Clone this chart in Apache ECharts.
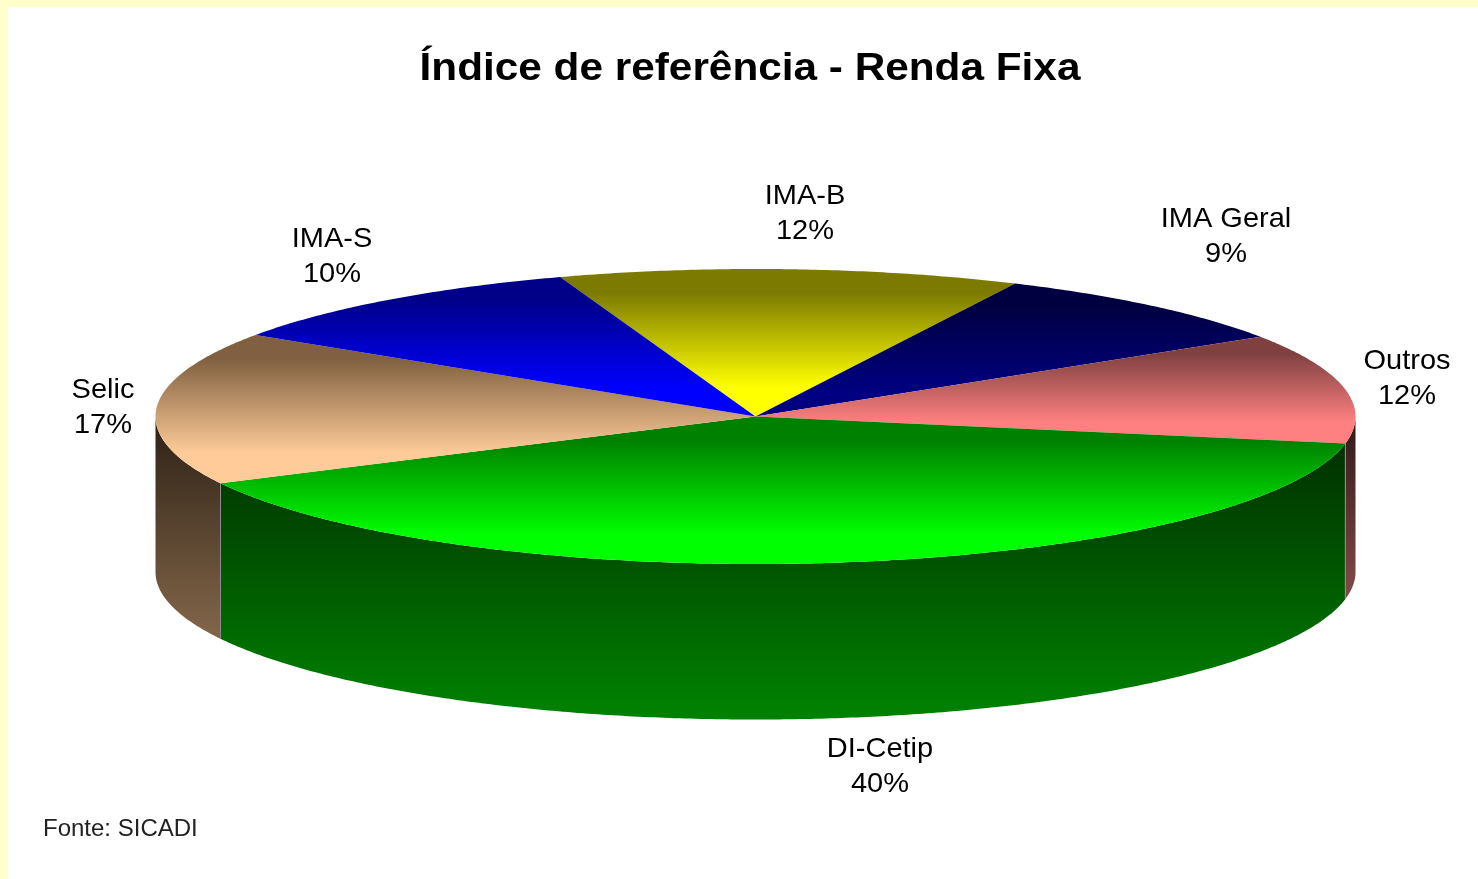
<!DOCTYPE html>
<html>
<head>
<meta charset="utf-8">
<title>Índice de referência - Renda Fixa</title>
<script src="https://cdn.jsdelivr.net/npm/echarts@6/dist/echarts.min.js"></script>
<style>
  html, body { margin: 0; padding: 0; background: #ffffcc; }
  #chart { width: 1478px; height: 879px; }
</style>
</head>
<body>
<div id="chart"></div>
<script>
// clockwise from the left edge of IMA-B
const categories = ['IMA-B', 'IMA Geral', 'Outros', 'DI-Cetip', 'Selic', 'IMA-S'];
const shares = [12.4, 8.8, 12.0, 39.6, 16.8, 10.4];
const fonte = 'Fonte: SICADI';
const chartTitle = 'Índice de referência - Renda Fixa';

// [bright, dark] for the top face of each slice
const topColors = [
  ['#ffff00', '#7c7a00'],
  ['#000080', '#000040'],
  ['#ff8080', '#804040'],
  ['#00ff00', '#008000'],
  ['#ffcc99', '#806040'],
  ['#0000ff', '#000088']
];
// [light, dark] for the wall under each slice
const wallColors = [
  ['#808000', '#404000'],
  ['#000060', '#000030'],
  ['#804848', '#301818'],
  ['#008000', '#003000'],
  ['#806448', '#2c2014'],
  ['#000080', '#000040']
];
// label centres, the original chart placed these by hand
const labelPos = [[805, 214], [1226, 237], [1407, 379], [880, 767], [103, 408], [332, 257]];

const CX = 755.5, CY = 416.5, RX = 600, RY = 147.5, DEPTH = 155.5, START = 109;

function pt(deg, dy) {
  const r = deg * Math.PI / 180;
  return [CX + RX * Math.cos(r), CY - RY * Math.sin(r) + (dy || 0)];
}

function arc(from, to, dy) {
  const n = Math.max(2, Math.ceil(Math.abs(to - from) * 2));
  const pts = [];
  for (let i = 0; i <= n; i++) pts.push(pt(from + (to - from) * i / n, dy));
  return pts;
}

// the faces sit flat at both ends of the ramp, the walls ramp all the way
function faceGrad(colors) {
  return new echarts.graphic.LinearGradient(0, 0, 0, 1, [
    { offset: 0, color: colors[1] },
    { offset: 0.16, color: colors[1] },
    { offset: 0.8, color: colors[0] },
    { offset: 1, color: colors[0] }
  ]);
}

function wallGrad(colors) {
  return new echarts.graphic.LinearGradient(0, 0, 0, 1, [
    { offset: 0, color: colors[1] },
    { offset: 0.96, color: colors[0] },
    { offset: 1, color: colors[0] }
  ]);
}

const total = shares.reduce((a, b) => a + b, 0);
let acc = START;
const rows = shares.map((v, i) => {
  const a1 = acc;
  acc -= v / total * 360;
  return [a1, acc, i];
});

function renderSlice(params, api) {
  const a1 = api.value(0), a2 = api.value(1), i = api.value(2);
  const children = [];

  // the front half of the wall is the only part that can be seen (-180..0)
  const w1 = Math.min(a1, 0), w2 = Math.max(a2, -180);
  if (w1 > w2) {
    const pts = arc(w1, w2, 0).concat(arc(w2, w1, DEPTH));
    children.push({
      type: 'polygon',
      shape: { points: pts },
      style: { fill: wallGrad(wallColors[i]) }
    });
    // thin grey edge at the slice boundary
    [a1, a2].forEach(a => {
      if (a < 0 && a > -180) {
        const p = pt(a);
        children.push({
          type: 'line',
          z2: 5,
          shape: { x1: p[0], y1: p[1], x2: p[0], y2: p[1] + DEPTH },
          style: { stroke: '#8c8c8c', lineWidth: 1 }
        });
      }
    });
  }

  children.push({
    type: 'polygon',
    z2: 10,
    shape: { points: [[CX, CY]].concat(arc(a1, a2, 0)) },
    style: { fill: faceGrad(topColors[i]) }
  });

  children.push({
    type: 'text',
    z2: 20,
    x: labelPos[i][0],
    y: labelPos[i][1],
    scaleX: 1.035,
    style: {
      text: categories[i] + '\n' + Math.round(shares[i]) + '%',
      fontFamily: '"Liberation Sans", Arial, sans-serif',
      fontSize: 28,
      lineHeight: 35,
      fill: '#000',
      align: 'center',
      verticalAlign: 'middle'
    }
  });

  return { type: 'group', children: children };
}

const chart = echarts.init(document.getElementById('chart'), null, { renderer: 'canvas' });
chart.setOption({
  animation: false,
  backgroundColor: '#ffffcc',
  graphic: [
    {
      type: 'rect',
      z: -10,
      shape: { x: 8, y: 7, width: 1470, height: 872 },
      style: { fill: '#fff' },
      silent: true
    },
    {
      type: 'text',
      x: 750,
      y: 69,
      scaleX: 1.085,
      style: {
        text: chartTitle,
        fontFamily: '"Liberation Sans", Arial, sans-serif',
        fontSize: 39,
        fontWeight: 'bold',
        fill: '#000',
        align: 'center',
        verticalAlign: 'middle'
      }
    },
    {
      type: 'text',
      x: 43,
      y: 829,
      style: {
        text: fonte,
        fontFamily: '"Liberation Sans", Arial, sans-serif',
        fontSize: 24,
        fill: '#222',
        verticalAlign: 'middle'
      }
    }
  ],
  series: [{
    type: 'custom',
    coordinateSystem: 'none',
    renderItem: renderSlice,
    data: rows
  }]
});
</script>
</body>
</html>
